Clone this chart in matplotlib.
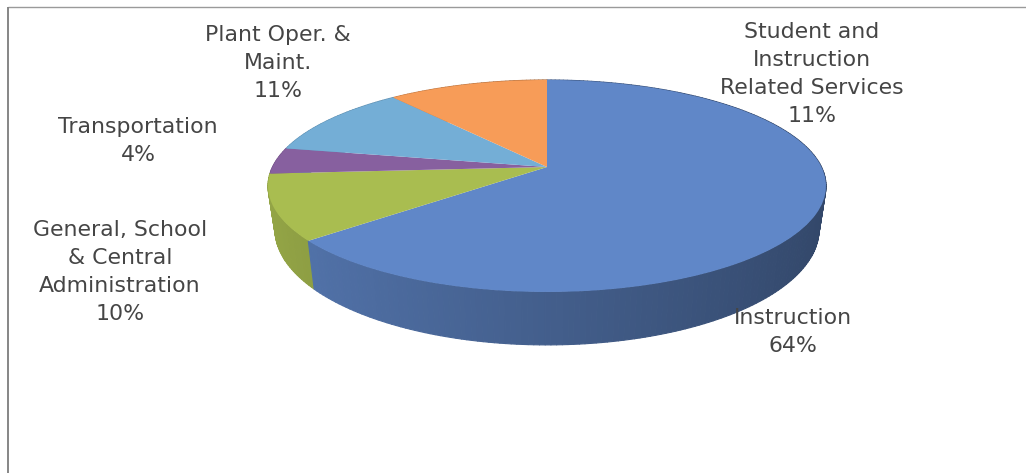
import numpy as np
import matplotlib
matplotlib.use("Agg")
import matplotlib.pyplot as plt
from matplotlib.collections import PolyCollection
from matplotlib.colors import to_rgb
from matplotlib.transforms import Transform

# Spending shares, clockwise from twelve o'clock
categories = ["Instruction", "General, School\n& Central\nAdministration", "Transportation",
              "Plant Oper. &\nMaint.", "Student and\nInstruction\nRelated Services"]
shares = [64, 10, 4, 11, 11]
colors = ["#6087c8", "#a9bd50", "#87609f", "#74aed6", "#f79c58"]
label_xy = [(793, 332), (120, 272), (138, 141), (278, 63), (812, 74)]

W, H = 1026, 473
CX, CY = 547, 186      # centre of the visible top ellipse
RX, RY = 274.5, 106    # projected radii
LIFT = 19              # pie apex sits above the ellipse centre
PERSP = 0.179          # foreshortening of the far side


def project(u, v):
    """Map a point on the unit disc to pixel coordinates of the tilted top face."""
    d = 1 + PERSP * v
    return CX + RX * u / d, CY - (RY * v + LIFT) / d


class TiltTransform(Transform):
    input_dims = 2
    output_dims = 2
    is_separable = False
    has_inverse = False

    def transform_non_affine(self, values):
        values = np.asarray(values, dtype=float)
        x, y = project(values[:, 0], values[:, 1])
        return np.column_stack([x, y])


def rim_base(x, y):
    """Lower edge of the wall belonging to a point on the top rim."""
    return CX + 0.975 * (x - CX), y + 43.4 + 0.09 * (y - CY)


fig = plt.figure(figsize=(W / 100, H / 100), dpi=100, facecolor="white")
ax = fig.add_axes([0, 0, 1, 1])

# Side wall: narrow quads around the rim, shaded darker towards the right
quads, shades = [], []
start = 90.0
for share, color in zip(shares, colors):
    sweep = share * 3.6
    angles = np.radians(np.linspace(start, start - sweep, max(int(sweep), 3) + 1))
    base = np.array(to_rgb(color))
    for a0, a1 in zip(angles[:-1], angles[1:]):
        x0, y0 = project(np.cos(a0), np.sin(a0))
        x1, y1 = project(np.cos(a1), np.sin(a1))
        bx0, by0 = rim_base(x0, y0)
        bx1, by1 = rim_base(x1, y1)
        quads.append([(x0, y0), (x1, y1), (bx1, by1), (bx0, by0)])
        factor = 0.70 - 0.18 * np.cos((a0 + a1) / 2)
        shades.append(base * factor)
    start -= sweep

# Paint far quads first so the nearer wall covers them
order = np.argsort([np.mean([p[1] for p in q]) for q in quads])
quads = [quads[i] for i in order]
shades = [shades[i] for i in order]
ax.add_collection(PolyCollection(quads, facecolors=shades, edgecolors=shades, linewidths=0.8))

# Top face
ax.pie(shares, colors=colors, startangle=90, counterclock=False, radius=1,
       wedgeprops={"transform": TiltTransform() + ax.transData, "linewidth": 0})

ax.set_aspect("auto")
ax.set_xlim(0, W)
ax.set_ylim(H, 0)
ax.set_xticks([])
ax.set_yticks([])
ax.set_frame_on(False)

# Chart frame: only the top and left edges are visible
ax.plot([8, W], [7, 7], color="#9a9a9a", lw=1.0, solid_capstyle="butt")
ax.plot([8, 8], [7, H], color="#7d7d7d", lw=1.3, solid_capstyle="butt")

for name, share, (x, y) in zip(categories, shares, label_xy):
    ax.text(x, y, f"{name}\n{share}%", ha="center", va="center", ma="center",
            fontsize=15.8, family="DejaVu Sans", color="#454545", linespacing=1.48)

fig.savefig("out.png", dpi=100)
